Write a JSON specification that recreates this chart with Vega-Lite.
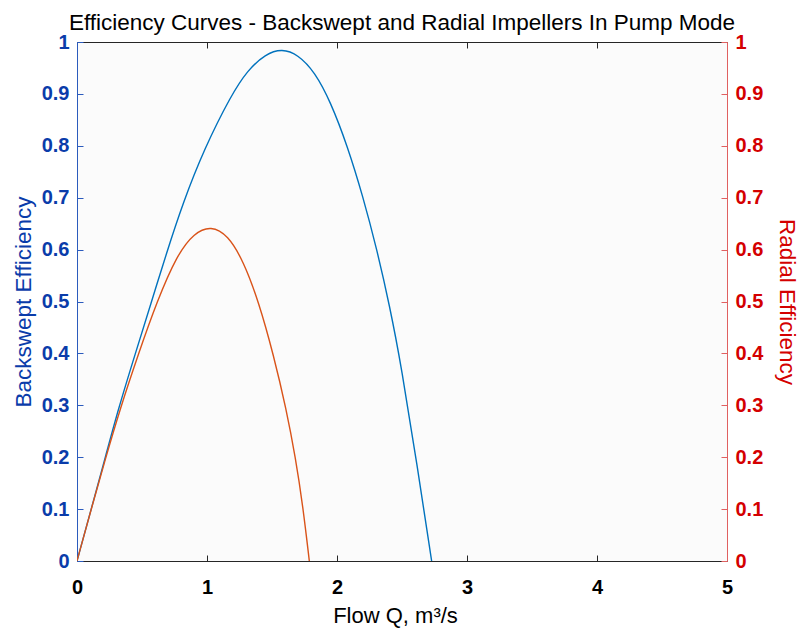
{
  "$schema": "https://vega.github.io/schema/vega-lite/v6.json",
  "width": 650,
  "height": 519,
  "autosize": {"type": "none"},
  "padding": {"left": 77, "top": 42, "right": 75, "bottom": 67},
  "background": "white",
  "config": {
    "view": {"fill": "#fbfbfb", "stroke": null},
    "font": "Liberation Sans",
    "axis": {"grid": false, "labelFont": "Liberation Sans", "titleFont": "Liberation Sans"}
  },
  "title": {
    "text": "Efficiency Curves - Backswept and Radial Impellers In Pump Mode",
    "fontSize": 22.5,
    "fontWeight": "normal",
    "color": "#000000",
    "font": "Liberation Sans",
    "anchor": "middle",
    "offset": -2
  },
  "data": {
    "values": [
      {"Q": 0, "eff": 0, "series": "Backswept"},
      {"Q": 0.115, "eff": 0.105, "series": "Backswept"},
      {"Q": 0.218, "eff": 0.2, "series": "Backswept"},
      {"Q": 0.32, "eff": 0.295, "series": "Backswept"},
      {"Q": 0.449, "eff": 0.4, "series": "Backswept"},
      {"Q": 0.57, "eff": 0.497, "series": "Backswept"},
      {"Q": 0.687, "eff": 0.592, "series": "Backswept"},
      {"Q": 0.815, "eff": 0.69, "series": "Backswept"},
      {"Q": 0.98, "eff": 0.795, "series": "Backswept"},
      {"Q": 1.187, "eff": 0.898, "series": "Backswept"},
      {"Q": 1.31, "eff": 0.945, "series": "Backswept"},
      {"Q": 1.45, "eff": 0.977, "series": "Backswept"},
      {"Q": 1.577, "eff": 0.987, "series": "Backswept"},
      {"Q": 1.7, "eff": 0.976, "series": "Backswept"},
      {"Q": 1.83, "eff": 0.942, "series": "Backswept"},
      {"Q": 1.95, "eff": 0.885, "series": "Backswept"},
      {"Q": 2.08, "eff": 0.8, "series": "Backswept"},
      {"Q": 2.2, "eff": 0.702, "series": "Backswept"},
      {"Q": 2.305, "eff": 0.602, "series": "Backswept"},
      {"Q": 2.405, "eff": 0.492, "series": "Backswept"},
      {"Q": 2.497, "eff": 0.372, "series": "Backswept"},
      {"Q": 2.613, "eff": 0.19, "series": "Backswept"},
      {"Q": 2.728, "eff": 0, "series": "Backswept"},
      {"Q": 0, "eff": 0, "series": "Radial"},
      {"Q": 0.115, "eff": 0.105, "series": "Radial"},
      {"Q": 0.22, "eff": 0.198, "series": "Radial"},
      {"Q": 0.33, "eff": 0.292, "series": "Radial"},
      {"Q": 0.474, "eff": 0.4, "series": "Radial"},
      {"Q": 0.615, "eff": 0.5, "series": "Radial"},
      {"Q": 0.77, "eff": 0.59, "series": "Radial"},
      {"Q": 0.9, "eff": 0.632, "series": "Radial"},
      {"Q": 1.031, "eff": 0.646, "series": "Radial"},
      {"Q": 1.16, "eff": 0.628, "series": "Radial"},
      {"Q": 1.28, "eff": 0.578, "series": "Radial"},
      {"Q": 1.397, "eff": 0.5, "series": "Radial"},
      {"Q": 1.513, "eff": 0.396, "series": "Radial"},
      {"Q": 1.61, "eff": 0.292, "series": "Radial"},
      {"Q": 1.68, "eff": 0.2, "series": "Radial"},
      {"Q": 1.738, "eff": 0.105, "series": "Radial"},
      {"Q": 1.787, "eff": 0, "series": "Radial"}
    ]
  },
  "layer": [
    {
      "transform": [{"filter": "datum.series === 'Backswept'"}],
      "mark": {"type": "line", "color": "#0072BD", "strokeWidth": 1.4, "interpolate": "basis", "clip": true},
      "encoding": {
        "x": {
          "field": "Q", "type": "quantitative",
          "scale": {"domain": [0, 5], "nice": false},
          "axis": {
            "orient": "bottom", "values": [0, 1, 2, 3, 4, 5], "format": "~g",
            "title": "Flow Q, m³/s", "titleFontSize": 22, "titleFontWeight": "normal", "titleColor": "#000000",
            "titlePadding": 8, "titleX": 318,
            "labelFontSize": 20, "labelFontWeight": "bold", "labelColor": "#000000", "labelPadding": 22,
            "tickSize": -6, "tickColor": "#262626", "domainColor": "#262626", "labelFlush": false
          }
        },
        "y": {
          "field": "eff", "type": "quantitative",
          "scale": {"domain": [0, 1], "nice": false},
          "axis": {
            "orient": "left", "values": [0, 0.1, 0.2, 0.3, 0.4, 0.5, 0.6, 0.7, 0.8, 0.9, 1], "format": "~g",
            "title": "Backswept Efficiency", "titleFontSize": 22.5, "titleFontWeight": "normal", "titleColor": "#0a3caa",
            "titlePadding": 6,
            "labelFontSize": 20, "labelFontWeight": "bold", "labelColor": "#0a3caa", "labelPadding": 14,
            "tickSize": -6, "tickColor": "#2b5bbd", "domainColor": "#2b5bbd", "labelFlush": false
          }
        }
      }
    },
    {
      "transform": [{"filter": "datum.series === 'Radial'"}],
      "mark": {"type": "line", "color": "#D95319", "strokeWidth": 1.4, "interpolate": "basis", "clip": true},
      "encoding": {
        "x": {
          "field": "Q", "type": "quantitative",
          "scale": {"domain": [0, 5], "nice": false},
          "axis": {
            "orient": "top", "values": [0, 1, 2, 3, 4, 5], "labels": false, "title": null,
            "tickSize": -6, "tickColor": "#262626", "domainColor": "#262626"
          }
        },
        "y": {
          "field": "eff", "type": "quantitative",
          "scale": {"domain": [0, 1], "nice": false},
          "axis": {
            "orient": "right", "values": [0, 0.1, 0.2, 0.3, 0.4, 0.5, 0.6, 0.7, 0.8, 0.9, 1], "format": "~g",
            "title": "Radial Efficiency", "titleFontSize": 22.5, "titleFontWeight": "normal", "titleColor": "#d40000",
            "titlePadding": 12,
            "labelFontSize": 20, "labelFontWeight": "bold", "labelColor": "#d40000", "labelPadding": 14,
            "tickSize": -6, "tickColor": "#e06060", "domainColor": "#e06060", "labelFlush": false
          }
        }
      }
    }
  ],
  "resolve": {"scale": {"y": "independent"}, "axis": {"x": "independent", "y": "independent"}}
}
